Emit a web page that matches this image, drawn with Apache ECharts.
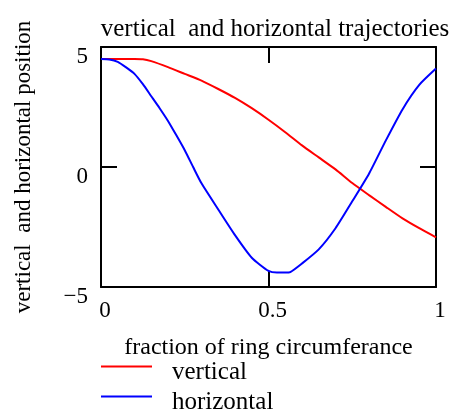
<!DOCTYPE html>
<html>
<head>
<meta charset="utf-8">
<script src="https://cdn.jsdelivr.net/npm/echarts@6/dist/echarts.min.js"></script>
<style>
html,body{margin:0;padding:0;background:#fff;}
#chart{width:451px;height:414px;}
</style>
</head>
<body>
<div id="chart"></div>
<script>
var titleText = 'vertical  and horizontal trajectories';
var xName = 'fraction of ring circumferance';
var yName = 'vertical  and horizontal position';
var seriesNames = ['vertical', 'horizontal'];

var fractionV = [0, 0.05, 0.1, 0.125, 0.15, 0.2, 0.25, 0.3, 0.35, 0.4, 0.45, 0.5, 0.55, 0.6, 0.65, 0.7, 0.75, 0.8, 0.85, 0.9, 0.95, 1.0];
var vertical  = [4.5, 4.5, 4.5, 4.49, 4.41, 4.16, 3.88, 3.6, 3.25, 2.88, 2.45, 1.97, 1.45, 0.9, 0.4, -0.1, -0.67, -1.17, -1.66, -2.14, -2.55, -2.93];

var fractionH = [0, 0.025, 0.05, 0.075, 0.1, 0.125, 0.15, 0.175, 0.2, 0.225, 0.25, 0.275, 0.3, 0.35, 0.4, 0.45, 0.5, 0.525, 0.55, 0.565, 0.6, 0.65, 0.7, 0.75, 0.8, 0.85, 0.9, 0.95, 1.0];
var horizontal = [4.5, 4.48, 4.38, 4.15, 3.88, 3.45, 2.95, 2.45, 1.92, 1.32, 0.7, 0.0, -0.68, -1.77, -2.84, -3.78, -4.33, -4.4, -4.4, -4.38, -4.02, -3.43, -2.55, -1.43, -0.28, 1.1, 2.4, 3.42, 4.1];

var xMin = 0, xMax = 1, xStep = 0.5;
var yMin = -5, yMax = 5, yStep = 5;

function pairs(xs, ys) { return xs.map(function (x, i) { return [x, ys[i]]; }); }

var FONT = 'Liberation Serif';
var chart = echarts.init(document.getElementById('chart'));

function tick() { return { show: true, inside: true, length: 16, lineStyle: { color: '#000', width: 2 } }; }
function line() { return { show: true, onZero: false, lineStyle: { color: '#000', width: 2 } }; }

chart.setOption({
  animation: false,
  backgroundColor: '#fff',
  title: {
    text: titleText,
    left: 270, top: 12,
    textAlign: 'center',
    textStyle: { fontFamily: FONT, fontSize: 25, fontWeight: 'normal', color: '#000' }
  },
  legend: {
    orient: 'vertical',
    left: 101, top: 360, height: 80, width: 300,
    padding: 0,
    itemWidth: 51, itemHeight: 14,
    itemGap: 5,
    icon: 'path://M0,0H51V2H0Z M0,13.99H51V14H0Z',
    textStyle: { fontFamily: FONT, fontSize: 25, color: '#000', lineHeight: 20, padding: [0, 0, 0, 15] },
    data: seriesNames
  },
  grid: { left: 101, right: 15, top: 47, bottom: 127 },
  xAxis: [{
    type: 'value', min: xMin, max: xMax, interval: xStep, position: 'bottom',
    name: xName, nameLocation: 'middle', nameGap: 49,
    nameTextStyle: { fontFamily: FONT, fontSize: 24, color: '#000' },
    axisLine: line(), axisTick: tick(), splitLine: { show: false },
    axisLabel: { fontFamily: FONT, fontSize: 23, color: '#000', margin: 12, padding: [0, 0, 0, 8] }
  }, {
    type: 'value', min: xMin, max: xMax, interval: xStep, position: 'top',
    axisLine: line(), axisTick: tick(), splitLine: { show: false },
    axisLabel: { show: false }
  }],
  yAxis: [{
    type: 'value', min: yMin, max: yMax, interval: yStep, position: 'left',
    name: yName, nameLocation: 'middle', nameGap: 66,
    nameTextStyle: { fontFamily: FONT, fontSize: 23, color: '#000' },
    axisLine: line(), axisTick: tick(), splitLine: { show: false },
    axisLabel: { fontFamily: FONT, fontSize: 23, lineHeight: 20, color: '#000', margin: 13, verticalAlign: 'top',
      formatter: function (v) { return v < 0 ? '\u2212' + Math.abs(v) : String(v); } }
  }, {
    type: 'value', min: yMin, max: yMax, interval: yStep, position: 'right',
    axisLine: line(), axisTick: tick(), splitLine: { show: false },
    axisLabel: { show: false }
  }],
  series: [{
    name: seriesNames[0], type: 'line', data: pairs(fractionV, vertical),
    showSymbol: false, smooth: 0.2, lineStyle: { color: '#ff0000', width: 2 }, itemStyle: { color: '#ff0000' }
  }, {
    name: seriesNames[1], type: 'line', data: pairs(fractionH, horizontal),
    showSymbol: false, smooth: 0.2, lineStyle: { color: '#0000ff', width: 2 }, itemStyle: { color: '#0000ff' }
  }]
});
</script>
</body>
</html>
